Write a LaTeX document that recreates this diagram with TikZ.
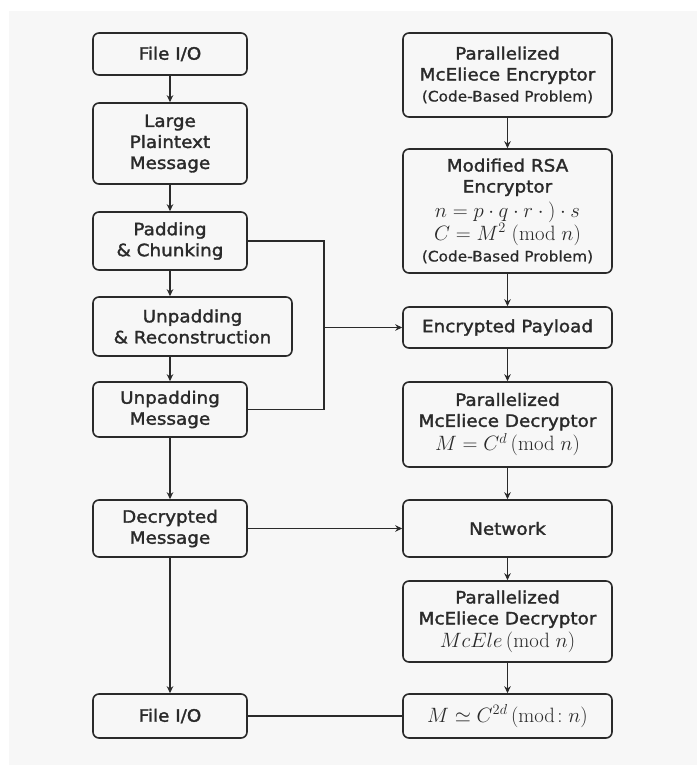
\documentclass[tikz,border=0pt]{standalone}
\usepackage[no-math]{fontspec}
\setmainfont{DejaVu Sans}[FakeStretch=1.08,FakeBold=1.8]
\newfontfamily\lightfont{DejaVu Sans}[FakeStretch=1.06,FakeBold=0.7]
\usetikzlibrary{arrows.meta}
\definecolor{panel}{HTML}{F7F7F7}
\definecolor{ink}{HTML}{2A2A2A}
\tikzset{
  box/.style={draw=ink, line width=1.6pt, rounded corners=6pt, fill=panel, align=center,
    inner sep=0pt, text=ink, font=\fontsize{17}{21}\selectfont},
  conn/.style={draw=ink, line width=1.6pt},
  arr/.style={conn, -{Stealth[length=7pt,width=6.5pt]}},
}
\newcommand{\subline}[1]{{\lightfont\fontsize{14.5}{20}\selectfont #1}}
\newcommand{\mathline}[1]{{\fontsize{20.74}{23}\selectfont #1}}
\begin{document}
\begin{tikzpicture}[x=1pt,y=-1pt]
\useasboundingbox (0,0) rectangle (697,773);
\fill[panel] (9,11) rectangle (697,765);
% left column
\node[box, minimum width=154pt, minimum height=42pt] (fio1) at (170,54) {File I/O};
\node[box, minimum width=154pt, minimum height=81pt] (large) at (170,143.5) {Large\\Plaintext\\Message};
\node[box, minimum width=154pt, minimum height=58pt] (pad) at (170,241) {Padding\\\& Chunking};
\node[box, minimum width=199pt, minimum height=59pt] (unrec) at (192.5,326.5) {Unpadding\\\& Reconstruction};
\node[box, minimum width=154pt, minimum height=55pt] (unmsg) at (170,409.5) {Unpadding\\Message};
\node[box, minimum width=154pt, minimum height=57pt] (dec) at (170,528.5) {Decrypted\\Message};
\node[box, minimum width=154pt, minimum height=44pt] (fio2) at (170,716) {File I/O};
% right column
\node[box, minimum width=209pt, minimum height=84pt] (enc) at (507.5,75) {Parallelized\\McEliece Encryptor\\\subline{(Code-Based Problem)}};
\node[box, minimum width=209pt, minimum height=124pt] (rsa) at (507.5,211) {Modified RSA\\Encryptor\\[4pt]\mathline{$n = p\cdot q\cdot r\cdot{)}\cdot s$}\\\mathline{$C = M^{2}\;(\mathrm{mod}\; n)$}\\\subline{(Code-Based Problem)}};
\node[box, minimum width=209pt, minimum height=41pt] (pay) at (507.5,327.5) {Encrypted Payload};
\node[box, minimum width=209pt, minimum height=85pt] (dec1) at (507.5,424.5) {Parallelized\\McEliece Decryptor\\[2pt]\mathline{$M = C^{d}\,(\mathrm{mod}\; n)$}};
\node[box, minimum width=209pt, minimum height=57pt] (net) at (507.5,528.5) {Network};
\node[box, minimum width=209pt, minimum height=81pt] (dec2) at (507.5,621.5) {Parallelized\\McEliece Decryptor\\[2pt]\mathline{$McEle\,(\mathrm{mod}\; n)$}};
\node[box, minimum width=209pt, minimum height=44pt] (last) at (507.5,716) {\mathline{$M \simeq C^{2d}\,(\mathrm{mod}\!: n)$}};
% left arrows
\draw[arr] (fio1) -- (large);
\draw[arr] (large) -- (pad);
\draw[arr] (pad.south) -- (pad.south |- unrec.north);
\draw[arr] (pad.south |- unrec.south) -- (unmsg.north);
\draw[arr] (unmsg) -- (dec);
\draw[arr] (dec) -- (fio2);
% right arrows
\draw[arr] (enc) -- (rsa);
\draw[arr] (rsa) -- (pay);
\draw[arr] (pay) -- (dec1);
\draw[arr] (dec1) -- (net);
\draw[arr] (net) -- (dec2);
\draw[arr] (dec2) -- (last);
% bus
\coordinate (bus) at (324,0);
\draw[conn] (pad.east) -| (bus |- unmsg.east) -- (unmsg.east);
\draw[arr] (bus |- pay.west) -- (pay.west);
\draw[arr] (dec.east) -- (net.west);
\draw[conn] (fio2.east) -- (last.west);
\end{tikzpicture}
\end{document}
